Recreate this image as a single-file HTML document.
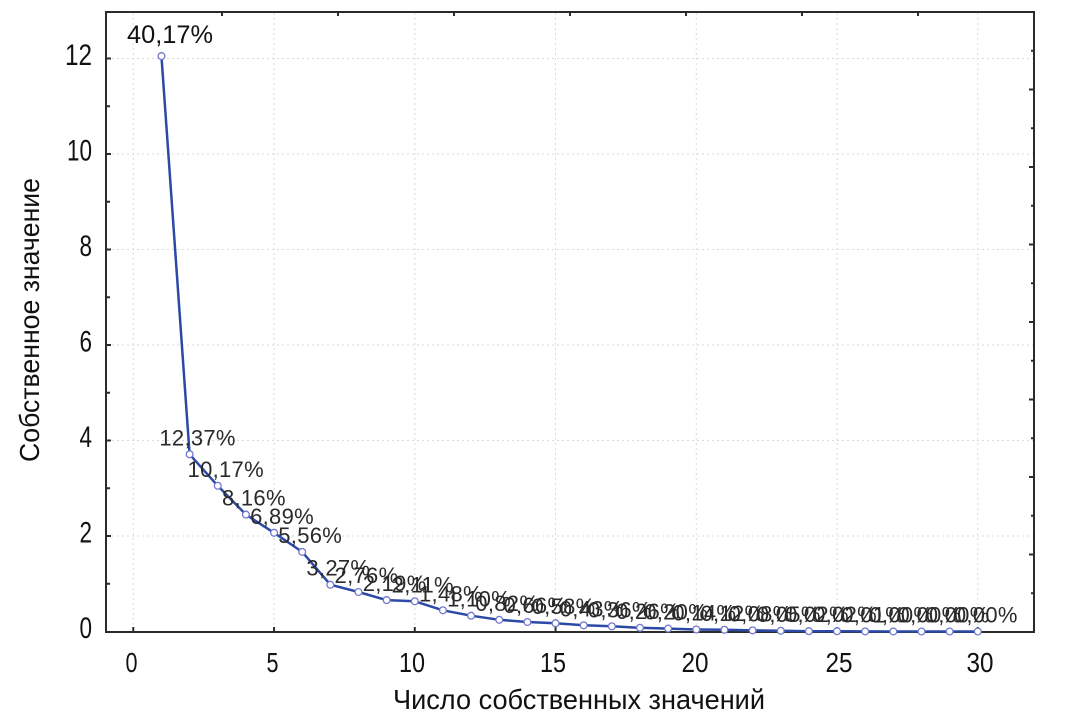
<!DOCTYPE html>
<html>
<head>
<meta charset="utf-8">
<style>
html,body{margin:0;padding:0;background:#fff;}
svg{display:block;}
.t{font-family:"Liberation Sans",sans-serif;fill:#111;}
.s{font-family:"Liberation Sans",sans-serif;fill:#2a2a2a;font-size:22px;letter-spacing:0.3px;text-anchor:middle;}
</style>
</head>
<body>
<svg width="1085" height="726" viewBox="0 0 1085 726" xmlns="http://www.w3.org/2000/svg">
<rect x="0" y="0" width="1085" height="726" fill="#fff"/>

<!-- grid -->
<g stroke="#dadada" stroke-width="1" stroke-dasharray="2,3" fill="none">
  <line x1="133.3" y1="13" x2="133.3" y2="631"/>
  <line x1="274.05" y1="13" x2="274.05" y2="631"/>
  <line x1="414.8" y1="13" x2="414.8" y2="631"/>
  <line x1="555.55" y1="13" x2="555.55" y2="631"/>
  <line x1="696.3" y1="13" x2="696.3" y2="631"/>
  <line x1="837.05" y1="13" x2="837.05" y2="631"/>
  <line x1="977.8" y1="13" x2="977.8" y2="631"/>
  <line x1="107" y1="536" x2="1033" y2="536"/>
  <line x1="107" y1="440.5" x2="1033" y2="440.5"/>
  <line x1="107" y1="345" x2="1033" y2="345"/>
  <line x1="107" y1="249.5" x2="1033" y2="249.5"/>
  <line x1="107" y1="154" x2="1033" y2="154"/>
  <line x1="107" y1="58.5" x2="1033" y2="58.5"/>
</g>

<!-- frame -->
<rect x="106" y="12" width="928" height="620" fill="none" stroke="#2b2b2b" stroke-width="2"/>

<!-- ticks -->
<g stroke="#2b2b2b" stroke-width="2">
  <line x1="106" y1="583.75" x2="110" y2="583.75"/>
  <line x1="106" y1="536" x2="111" y2="536"/>
  <line x1="106" y1="488.25" x2="110" y2="488.25"/>
  <line x1="106" y1="440.5" x2="111" y2="440.5"/>
  <line x1="106" y1="392.75" x2="110" y2="392.75"/>
  <line x1="106" y1="345" x2="111" y2="345"/>
  <line x1="106" y1="297.25" x2="110" y2="297.25"/>
  <line x1="106" y1="249.5" x2="111" y2="249.5"/>
  <line x1="106" y1="201.75" x2="110" y2="201.75"/>
  <line x1="106" y1="154" x2="111" y2="154"/>
  <line x1="106" y1="106.25" x2="110" y2="106.25"/>
  <line x1="106" y1="58.5" x2="111" y2="58.5"/>
  <line x1="133.3" y1="632" x2="133.3" y2="627"/>
  <line x1="274.05" y1="632" x2="274.05" y2="627"/>
  <line x1="414.8" y1="632" x2="414.8" y2="627"/>
  <line x1="555.55" y1="632" x2="555.55" y2="627"/>
  <line x1="696.3" y1="632" x2="696.3" y2="627"/>
  <line x1="837.05" y1="632" x2="837.05" y2="627"/>
  <line x1="977.8" y1="632" x2="977.8" y2="627"/>
  <line x1="222" y1="12" x2="222" y2="16"/>
  <line x1="338" y1="12" x2="338" y2="16"/>
  <line x1="454" y1="12" x2="454" y2="16"/>
  <line x1="570" y1="12" x2="570" y2="16"/>
  <line x1="686" y1="12" x2="686" y2="16"/>
  <line x1="802" y1="12" x2="802" y2="16"/>
  <line x1="918" y1="12" x2="918" y2="16"/>
  <line x1="1034" y1="593.25" x2="1031" y2="593.25"/>
  <line x1="1034" y1="554.5" x2="1029" y2="554.5"/>
  <line x1="1034" y1="515.75" x2="1031" y2="515.75"/>
  <line x1="1034" y1="477" x2="1029" y2="477"/>
  <line x1="1034" y1="438.25" x2="1031" y2="438.25"/>
  <line x1="1034" y1="399.5" x2="1029" y2="399.5"/>
  <line x1="1034" y1="360.75" x2="1031" y2="360.75"/>
  <line x1="1034" y1="322" x2="1029" y2="322"/>
  <line x1="1034" y1="283.25" x2="1031" y2="283.25"/>
  <line x1="1034" y1="244.5" x2="1029" y2="244.5"/>
  <line x1="1034" y1="205.75" x2="1031" y2="205.75"/>
  <line x1="1034" y1="167" x2="1029" y2="167"/>
  <line x1="1034" y1="128.25" x2="1031" y2="128.25"/>
  <line x1="1034" y1="89.5" x2="1029" y2="89.5"/>
  <line x1="1034" y1="50.75" x2="1031" y2="50.75"/>
</g>

<!-- y tick labels -->
<g class="t" font-size="30" text-anchor="end">
  <text x="92" y="638" textLength="12.5" lengthAdjust="spacingAndGlyphs">0</text>
  <text x="92" y="542.5" textLength="12.5" lengthAdjust="spacingAndGlyphs">2</text>
  <text x="92" y="447" textLength="12.5" lengthAdjust="spacingAndGlyphs">4</text>
  <text x="92" y="351.5" textLength="12.5" lengthAdjust="spacingAndGlyphs">6</text>
  <text x="92" y="256" textLength="12.5" lengthAdjust="spacingAndGlyphs">8</text>
  <text x="92" y="160.5" textLength="25" lengthAdjust="spacingAndGlyphs">10</text>
  <text x="92" y="65" textLength="27" lengthAdjust="spacingAndGlyphs">12</text>
</g>

<!-- x tick labels -->
<g class="t" font-size="28" text-anchor="middle">
  <text x="131.5" y="672" textLength="12" lengthAdjust="spacingAndGlyphs">0</text>
  <text x="272.5" y="672" textLength="12" lengthAdjust="spacingAndGlyphs">5</text>
  <text x="412" y="672" textLength="26" lengthAdjust="spacingAndGlyphs">10</text>
  <text x="553" y="672" textLength="26" lengthAdjust="spacingAndGlyphs">15</text>
  <text x="695" y="672" textLength="27" lengthAdjust="spacingAndGlyphs">20</text>
  <text x="839" y="672" textLength="27" lengthAdjust="spacingAndGlyphs">25</text>
  <text x="980" y="672" textLength="27" lengthAdjust="spacingAndGlyphs">30</text>
</g>

<!-- axis titles -->
<text class="t" font-size="28" x="393" y="709" textLength="372" lengthAdjust="spacingAndGlyphs">Число собственных значений</text>
<text class="t" font-size="28" text-anchor="middle" transform="translate(39,320) rotate(-90)" textLength="284" lengthAdjust="spacingAndGlyphs">Собственное значение</text>

<!-- data line -->
<polyline fill="none" stroke="#2c49a6" stroke-width="2.5" stroke-linejoin="round"
 points="161.45,56.1 189.6,454.3 217.75,485.8 245.9,514.6 274.05,532.8 302.2,551.9 330.35,584.7 358.5,592 386.65,600.1 414.8,601.3 442.95,610.3 471.1,615.7 499.25,619.8 527.4,622 555.55,623.2 583.7,625.3 611.85,626.3 640,627.8 668.15,628.6 696.3,629.5 724.45,629.8 752.6,630.4 780.75,630.8 808.9,631.2 837.05,631.2 865.2,631.4 893.35,631.5 921.5,631.5 949.65,631.5 977.8,631.5"/>

<!-- markers -->
<g fill="#fff" stroke="#7179d0" stroke-width="1.3">
  <circle cx="161.45" cy="56.1" r="3.4"/>
  <circle cx="189.6" cy="454.3" r="3.4"/>
  <circle cx="217.75" cy="485.8" r="3.4"/>
  <circle cx="245.9" cy="514.6" r="3.4"/>
  <circle cx="274.05" cy="532.8" r="3.4"/>
  <circle cx="302.2" cy="551.9" r="3.4"/>
  <circle cx="330.35" cy="584.7" r="3.4"/>
  <circle cx="358.5" cy="592" r="3.4"/>
  <circle cx="386.65" cy="600.1" r="3.4"/>
  <circle cx="414.8" cy="601.3" r="3.4"/>
  <circle cx="442.95" cy="610.3" r="3.4"/>
  <circle cx="471.1" cy="615.7" r="3.4"/>
  <circle cx="499.25" cy="619.8" r="3.4"/>
  <circle cx="527.4" cy="622" r="3.4"/>
  <circle cx="555.55" cy="623.2" r="3.4"/>
  <circle cx="583.7" cy="625.3" r="3.4"/>
  <circle cx="611.85" cy="626.3" r="3.4"/>
  <circle cx="640" cy="627.8" r="3.4"/>
  <circle cx="668.15" cy="628.6" r="3.4"/>
  <circle cx="696.3" cy="629.5" r="3.4"/>
  <circle cx="724.45" cy="629.8" r="3.4"/>
  <circle cx="752.6" cy="630.4" r="3.4"/>
  <circle cx="780.75" cy="630.8" r="3.4"/>
  <circle cx="808.9" cy="631.2" r="3.4"/>
  <circle cx="837.05" cy="631.2" r="3.4"/>
  <circle cx="865.2" cy="631.4" r="3.4"/>
  <circle cx="893.35" cy="631.5" r="3.4"/>
  <circle cx="921.5" cy="631.5" r="3.4"/>
  <circle cx="949.65" cy="631.5" r="3.4"/>
  <circle cx="977.8" cy="631.5" r="3.4"/>
</g>

<!-- first label (big) -->
<text class="t" font-size="25" x="127" y="43" textLength="86" lengthAdjust="spacingAndGlyphs">40,17%</text>

<!-- point labels -->
<g>
  <text class="s" x="197.6" y="445.3">12,37%</text>
  <text class="s" x="225.75" y="476.8">10,17%</text>
  <text class="s" x="253.9" y="505.6">8,16%</text>
  <text class="s" x="282.05" y="523.8">6,89%</text>
  <text class="s" x="310.2" y="542.9">5,56%</text>
  <text class="s" x="338.35" y="575.7">3,27%</text>
  <text class="s" x="366.5" y="583">2,76%</text>
  <text class="s" x="394.65" y="591.1">2,19%</text>
  <text class="s" x="422.8" y="592.3">2,11%</text>
  <text class="s" x="450.95" y="601.3">1,48%</text>
  <text class="s" x="479.1" y="606.7">1,10%</text>
  <text class="s" x="507.25" y="610.8">0,82%</text>
  <text class="s" x="535.4" y="613">0,66%</text>
  <text class="s" x="563.55" y="614.2">0,58%</text>
  <text class="s" x="591.7" y="616.3">0,43%</text>
  <text class="s" x="619.85" y="617.3">0,36%</text>
  <text class="s" x="648" y="618.8">0,26%</text>
  <text class="s" x="676.15" y="619.6">0,20%</text>
  <text class="s" x="704.3" y="620.5">0,14%</text>
  <text class="s" x="732.45" y="620.8">0,12%</text>
  <text class="s" x="760.6" y="621.4">0,08%</text>
  <text class="s" x="788.75" y="621.8">0,05%</text>
  <text class="s" x="816.9" y="622.2">0,02%</text>
  <text class="s" x="845.05" y="622.2">0,02%</text>
  <text class="s" x="873.2" y="622.4">0,01%</text>
  <text class="s" x="901.35" y="622.5">0,00%</text>
  <text class="s" x="929.5" y="622.5">0,00%</text>
  <text class="s" x="957.65" y="622.5">0,00%</text>
  <text class="s" x="985.8" y="622.5">0,00%</text>
</g>
</svg>
</body>
</html>
